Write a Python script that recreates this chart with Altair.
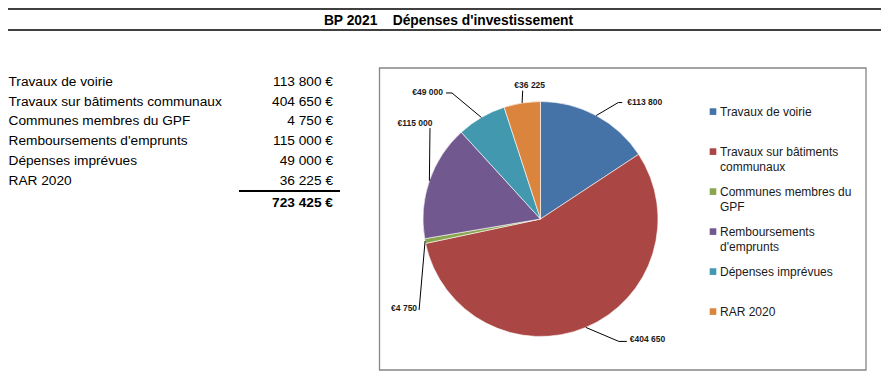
import math
import altair as alt
import pandas as pd

# ---------------- data ----------------
categories = [
    "Travaux de voirie",
    "Travaux sur bâtiments communaux",
    "Communes membres du GPF",
    "Remboursements d'emprunts",
    "Dépenses imprévues",
    "RAR 2020",
]
amounts = [113800, 404650, 4750, 115000, 49000, 36225]
legend_labels = [
    "Travaux de voirie",
    "Travaux sur bâtiments\ncommunaux",
    "Communes membres du\nGPF",
    "Remboursements\nd'emprunts",
    "Dépenses imprévues",
    "RAR 2020",
]
title_text = "BP 2021\u00a0\u00a0\u00a0\u00a0Dépenses d'investissement"
colors = ["#4572A7", "#AA4643", "#89A54E", "#71588F", "#4198AF", "#DB843D"]

# ---------------- layout (chart pixel coordinates) ----------------
W, H = 873, 366
FONT = "Liberation Sans"
PIE_CX, PIE_CY, PIE_R = 532.5, 211.0, 117.5
ROW_Y0, ROW_DY = 73.7, 19.8
LABEL_X, VALUE_X = 0.5, 325
LEG_SQ_X, LEG_TX_X, LEG_Y0, LEG_DY = 705, 712, 103.6, 40

# leader-line placement: elbow offset from slice edge, tail length, text offset, align
leader_layout = {
    "Travaux de voirie": ((22, -13), 4, (5, -1), "left"),
    "Travaux sur bâtiments communaux": ((33, 14), 8, (3, -2), "left"),
    "Communes membres du GPF": ((-6, 69), 0, (-2, -2), "right"),
    "Remboursements d'emprunts": ((0.6, -52.7), 0, (-15, -5), "center"),
    "Dépenses imprévues": ((-29.4, -24.5), -6, (-3, -1), "right"),
    "RAR 2020": ((0.6, -12.3), 0, (7, -5.7), "center"),
}


def fmt(v):
    return f"{v:,}".replace(",", "\u00a0")


total = sum(amounts)

XS = alt.Scale(domain=[0, W], range=[0, W], nice=False, zero=False)
YS = alt.Scale(domain=[0, H], range=[0, H], nice=False, zero=False)


def PX(f="x"):
    return alt.X(f"{f}:Q", scale=XS, axis=None)


def PY(f="y"):
    return alt.Y(f"{f}:Q", scale=YS, axis=None)


COLOR = alt.Color("cat:N", scale=alt.Scale(domain=categories, range=colors), legend=None)

# header lines + title
rules = pd.DataFrame({"x": [-8, -8], "x2": [W, W], "y": [1, 22]})
header_lines = alt.Chart(rules).mark_rule(color="black", strokeWidth=1.5).encode(
    x=PX(), x2="x2:Q", y=PY()
)
title = alt.Chart(pd.DataFrame({"x": [440.5], "y": [12.5], "t": [title_text]})).mark_text(
    font=FONT, fontSize=13.8, fontWeight="bold", color="black", align="center", baseline="middle"
).encode(x=PX(), y=PY(), text="t:N")

# table
tbl = pd.DataFrame({
    "cat": categories,
    "val": [fmt(a) + "\u00a0€" for a in amounts],
    "y": [ROW_Y0 + ROW_DY * i for i in range(len(categories))],
})
tbl["x"] = LABEL_X
tbl["xv"] = VALUE_X
table_labels = alt.Chart(tbl).mark_text(
    font=FONT, fontSize=13.7, color="black", align="left", baseline="middle"
).encode(x=PX(), y=PY(), text="cat:N")
table_values = alt.Chart(tbl).mark_text(
    font=FONT, fontSize=13.7, color="black", align="right", baseline="middle"
).encode(x=PX("xv"), y=PY(), text="val:N")
tot = pd.DataFrame({"x": [VALUE_X], "y": [195.3], "t": [fmt(total) + "\u00a0€"]})
total_text = alt.Chart(tot).mark_text(
    font=FONT, fontSize=13.7, fontWeight="bold", color="black", align="right", baseline="middle"
).encode(x=PX(), y=PY(), text="t:N")
underline = alt.Chart(pd.DataFrame({"x": [231], "x2": [332], "y": [183]})).mark_rule(
    color="black", strokeWidth=2
).encode(x=PX(), x2="x2:Q", y=PY())

# chart frame
frame = alt.Chart(pd.DataFrame({"x": [371.5], "x2": [858], "y": [60], "y2": [362]})).mark_rect(
    fill=None, stroke="#868686", strokeWidth=1.3
).encode(x=PX(), x2="x2:Q", y=PY(), y2="y2:Q")

# pie
pie_df = pd.DataFrame({"cat": categories, "amount": amounts, "idx": list(range(len(categories)))})
pie = alt.Chart(pie_df).mark_arc(
    x=PIE_CX, y=PIE_CY, radius=PIE_R, stroke="white", strokeWidth=0.6
).encode(
    theta=alt.Theta("amount:Q", stack=True),
    color=COLOR,
    order=alt.Order("idx:Q"),
)

# leader lines and data labels, anchored at each slice's mid-angle
line_rows, lab_rows = [], []
cum = 0.0
for c, a in zip(categories, amounts):
    mid = (cum + a / 2) / total * 2 * math.pi
    cum += a
    ex = PIE_CX + PIE_R * math.sin(mid)
    ey = PIE_CY - PIE_R * math.cos(mid)
    (dx, dy), tail, (tx, ty), al = leader_layout[c]
    bx, by = ex + dx, ey + dy
    txx = bx + tail
    line_rows += [
        {"cat": c, "o": 0, "x": ex, "y": ey},
        {"cat": c, "o": 1, "x": bx, "y": by},
        {"cat": c, "o": 2, "x": txx, "y": by},
    ]
    lab_rows.append({"cat": c, "x": txx + tx, "y": by + ty, "t": "€" + fmt(a), "al": al})
lines_df = pd.DataFrame(line_rows)
labs_df = pd.DataFrame(lab_rows)

leaders = alt.Chart(lines_df).mark_line(color="black", strokeWidth=1).encode(
    x=PX(), y=PY(), detail="cat:N", order="o:Q"
)
label_layers = []
for al in ["left", "right", "center"]:
    sub = labs_df[labs_df["al"] == al]
    label_layers.append(
        alt.Chart(sub).mark_text(
            font=FONT, fontSize=8.5, fontWeight="bold", color="#1a1a1a", align=al, baseline="middle"
        ).encode(x=PX(), y=PY(), text="t:N")
    )

# legend
leg = pd.DataFrame({
    "cat": categories,
    "lab": legend_labels,
    "y": [LEG_Y0 + LEG_DY * i for i in range(len(categories))],
})
leg["x"] = LEG_SQ_X
leg["xt"] = LEG_TX_X
leg["yt"] = leg["y"] + 4.3
leg_sq = alt.Chart(leg).mark_square(size=44, opacity=1).encode(x=PX(), y=PY(), color=COLOR)
leg_tx = alt.Chart(leg).mark_text(
    font=FONT, fontSize=12, color="#1a1a1a", align="left", baseline="alphabetic",
    lineBreak="\n", lineHeight=15.5
).encode(x=PX("xt"), y=PY("yt"), text="lab:N")

chart = alt.layer(
    header_lines, title, table_labels, table_values, underline, total_text,
    frame, pie, leaders, *label_layers, leg_sq, leg_tx,
).properties(
    width=W, height=H, padding=0, autosize=alt.AutoSizeParams(type="none"), background="white"
).configure_view(stroke=None)

chart.save("out.html", embed_options={"renderer": "svg", "actions": False})
